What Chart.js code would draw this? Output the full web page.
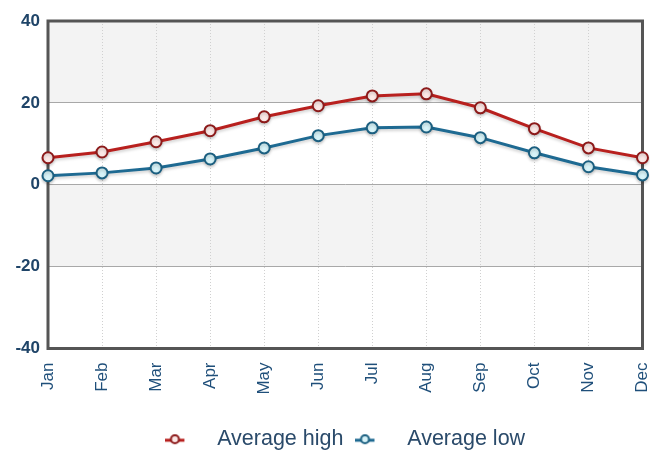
<!DOCTYPE html>
<html>
<head>
<meta charset="utf-8">
<script src="https://cdn.jsdelivr.net/npm/chart.js@4.4.1/dist/chart.umd.min.js"></script>
<style>
  html, body { margin: 0; padding: 0; background: #fff; }
  #wrap { width: 650px; height: 450px; }
</style>
</head>
<body>
<div id="wrap"><canvas id="climate_chart" width="650" height="450"></canvas></div>
<script>
const months = ['Jan', 'Feb', 'Mar', 'Apr', 'May', 'Jun', 'Jul', 'Aug', 'Sep', 'Oct', 'Nov', 'Dec'];
const avgHigh = [6.6, 8.0, 10.5, 13.2, 16.6, 19.3, 21.7, 22.2, 18.8, 13.7, 9.0, 6.6];
const avgLow = [2.2, 2.9, 4.1, 6.3, 9.0, 12.0, 13.9, 14.1, 11.5, 7.8, 4.4, 2.4];
const yTicks = [-40, -20, 0, 20, 40];

// legend icon: short line with a ring, drawn on the left of a wider box
function legendIcon(lineColor, ringColor, fillColor){
    const c = document.createElement('canvas');
    c.width = 41; c.height = 12;
    const g = c.getContext('2d');
    g.strokeStyle = lineColor;
    g.lineWidth = 3;
    g.beginPath(); g.moveTo(0, 7); g.lineTo(19, 7); g.stroke();
    g.fillStyle = fillColor;
    g.strokeStyle = ringColor;
    g.lineWidth = 2;
    g.beginPath(); g.arc(9.5, 6, 4, 0, Math.PI * 2); g.fill(); g.stroke();
    return c;
}

const bandsPlugin = {
    id: 'bands',
    beforeDraw(chart){
        const ctx = chart.ctx;
        const area = chart.chartArea;
        const y = chart.scales.y;
        ctx.save();
        for(let i = 0; i < yTicks.length - 1; i++){
            ctx.fillStyle = (i % 2 === 1) ? '#f3f3f3' : '#ffffff';
            const top = y.getPixelForValue(yTicks[i + 1]);
            const bot = y.getPixelForValue(yTicks[i]);
            ctx.fillRect(area.left, top, area.right - area.left, bot - top);
        }
        ctx.restore();
    },
    beforeDatasetsDraw(chart){
        const ctx = chart.ctx;
        const area = chart.chartArea;
        ctx.save();
        ctx.strokeStyle = '#555555';
        ctx.lineWidth = 3;
        ctx.strokeRect(area.left, area.top, area.right - area.left, area.bottom - area.top);
        ctx.restore();
    },
    beforeDatasetDraw(chart){
        chart.ctx.save();
        chart.ctx.shadowColor = 'rgba(0,0,0,0.18)';
        chart.ctx.shadowBlur = 3;
        chart.ctx.shadowOffsetY = 2;
    },
    afterDatasetDraw(chart){
        chart.ctx.restore();
    }
};

const ctx = document.getElementById('climate_chart').getContext('2d');
const climate_chart = new Chart(ctx, {
    type: 'line',
    data: {
        labels: months,
        datasets: [{
            label: 'Average high',
            data: avgHigh,
            borderColor: '#b8201e',
            borderWidth: 3,
            pointRadius: 5.5,
            pointBorderWidth: 2,
            pointBorderColor: '#8c1a1a',
            pointBackgroundColor: '#fbe8e6',
            tension: 0,
            fill: false
        }, {
            label: 'Average low',
            data: avgLow,
            borderColor: '#1e6a92',
            borderWidth: 3,
            pointRadius: 5.5,
            pointBorderWidth: 2,
            pointBorderColor: '#1b5f80',
            pointBackgroundColor: '#d7f3f8',
            tension: 0,
            fill: false
        }]
    },
    options: {
        responsive: false,
        animation: false,
        layout: {
            padding: { top: 21, right: 5, left: 0, bottom: -10 }
        },
        scales: {
            x: {
                offset: false,
                grid: {
                    color: '#d0d0d0',
                    lineWidth: 1,
                    drawTicks: false
                },
                border: { display: false, dash: [1, 2] },
                ticks: {
                    minRotation: 90,
                    maxRotation: 90,
                    autoSkip: false,
                    padding: 14,
                    color: '#1f4f7a',
                    font: { family: 'Liberation Sans, Arial, sans-serif', size: 17 }
                },
                afterFit(scale){
                    scale.height = 68;
                    // let Dec sit on the right edge like the original
                    scale.paddingRight = 0;
                }
            },
            y: {
                min: -40,
                max: 40,
                afterBuildTicks(scale){
                    scale.ticks = yTicks.map(v => ({ value: v }));
                },
                grid: {
                    color: '#a8a8a8',
                    lineWidth: 1,
                    drawTicks: false
                },
                border: { display: false },
                ticks: {
                    padding: 8,
                    color: '#1f4468',
                    font: { family: 'Liberation Sans, Arial, sans-serif', size: 17, weight: 'bold' }
                },
                afterFit(scale){ scale.width = 48; }
            }
        },
        plugins: {
            legend: {
                position: 'bottom',
                fullSize: false,
                labels: {
                    usePointStyle: true,
                    pointStyleWidth: 41,
                    color: '#2a4a6a',
                    padding: 12,
                    font: { family: 'Liberation Sans, Arial, sans-serif', size: 21.5 },
                    generateLabels(chart){
                        return chart.data.datasets.map((ds, i) => ({
                            text: ds.label,
                            datasetIndex: i,
                            fontColor: '#2a4a6a',
                            pointStyle: legendIcon(ds.borderColor, ds.pointBorderColor, ds.pointBackgroundColor),
                            hidden: false
                        }));
                    }
                }
            },
            tooltip: { enabled: false }
        }
    },
    plugins: [bandsPlugin]
});
</script>
</body>
</html>
